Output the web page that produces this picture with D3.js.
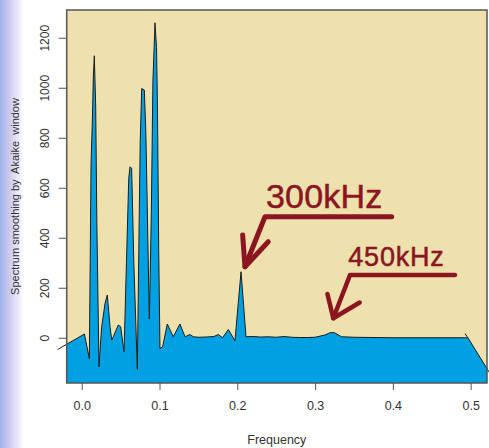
<!DOCTYPE html>
<html>
<head>
<meta charset="utf-8">
<script src="https://cdn.jsdelivr.net/npm/d3@7/dist/d3.min.js"></script>
<style>
  body { margin: 0; background: #fff; }
  svg { display: block; font-family: "Liberation Sans", Arial, sans-serif; }
</style>
</head>
<body>
<svg id="chart" width="489" height="448"></svg>
<script>
// spectrum
const freq = [-0.031, 0.0035, 0.0098, 0.0120, 0.0137, 0.0149, 0.0162, 0.0180, 0.0195, 0.0222,
  0.0255, 0.0300, 0.0329, 0.0364, 0.0386, 0.0406, 0.0470, 0.0501, 0.0544,
  0.0575, 0.0605, 0.0621, 0.0642, 0.0670, 0.0715,
  0.0740, 0.0752, 0.0771, 0.0805, 0.0825, 0.0850, 0.0869,
  0.0895, 0.0915, 0.0942, 0.0962, 0.0972, 0.0980, 0.0990, 0.1006,
  0.1040, 0.1100, 0.1177, 0.1263, 0.1328, 0.1390, 0.1435, 0.1500, 0.1600, 0.1700,
  0.1756, 0.1810, 0.1885, 0.1970, 0.2048, 0.2112, 0.2200, 0.2300, 0.2400, 0.2500,
  0.2600, 0.2700, 0.2800, 0.2900, 0.3000, 0.3127, 0.3200, 0.3250, 0.3340, 0.3500,
  0.4000, 0.4964, 0.5235, 0.5300];
const spec = [-47, 15, -83, 698, 871, 1043, 1128, 923, 450, -116,
  40, 138, 171, 45, -9, 4, 51, 44, -56,
  300, 640, 684, 677, 300, -127,
  500, 784, 997, 991, 818, 400, 75,
  500, 1024, 1260, 1161, 964, 717, 350, -43,
  -36, 55, 4, 55, 4, 13, 4, 2, 3, 5,
  13, 0, 33, -12, 264, 4, 5, 3, 4, 2,
  5, 2, 1, 1, 2, 11, 21, 20, 4, 2,
  0, 0, -136, -180];
// small stub of the closing line at the right end
const stubFreq = [0.4927, 0.4964];
const stubVal = [17, 0];

const xTicks = [0, 0.1, 0.2, 0.3, 0.4, 0.5];
const yTicks = [0, 200, 400, 600, 800, 1000, 1200];

// annotations (data units)
const noteText = ["300kHz", "450kHz"];
const noteFreq = [0.2369, 0.3427];
const noteVal = [521, 287];
const noteSize = [34, 27];
const arrowShaft = [
  [[0.3985, 484], [0.2356, 484], [0.2099, 284]],
  [[0.4798, 251], [0.3449, 251], [0.3234, 78]]
];
const arrowHead = [
  [[0.2069, 411], [0.2099, 284], [0.2398, 384]],
  [[0.3159, 175], [0.3234, 78], [0.3573, 141]]
];
const arrowWidth = [5, 4.5];

var svg = d3.select("#chart");
var plotL = 66.7, plotR = 487, plotT = 10, plotB = 383;

var x = d3.scaleLinear().domain([-0.0193, 0.521]).range([plotL, plotR]);
var y = d3.scaleLinear().domain([-181, 1311]).range([plotB, plotT]);

// lavender strip on the left edge
var grad = svg.append("defs").append("linearGradient")
  .attr("id", "side").attr("x1", "0").attr("x2", "1").attr("y1", "0").attr("y2", "0");
grad.append("stop").attr("offset", "0%").attr("stop-color", "#9db3ea");
grad.append("stop").attr("offset", "35%").attr("stop-color", "#c9c6ee");
grad.append("stop").attr("offset", "100%").attr("stop-color", "#ffffff");
svg.append("rect").attr("x", 0).attr("y", 0).attr("width", 24).attr("height", 448)
  .style("fill", "url(#side)");

svg.select("defs").append("clipPath").attr("id", "plotclip")
  .append("rect").attr("x", plotL).attr("y", plotT)
  .attr("width", plotR - plotL).attr("height", plotB - plotT);

svg.append("rect")
  .attr("x", plotL).attr("y", plotT)
  .attr("width", plotR - plotL).attr("height", plotB - plotT)
  .style("fill", "#eee1ae");

var pts = freq.map((f, i) => [f, spec[i]]);

var area = d3.area()
  .x(d => x(d[0]))
  .y0(y(-400))
  .y1(d => y(d[1]));

svg.append("path")
  .datum(pts)
  .attr("clip-path", "url(#plotclip)")
  .attr("d", area)
  .style("fill", "#00a0e2");

var line = d3.line().x(d => x(d[0])).y(d => y(d[1]));

svg.append("path")
  .datum(pts)
  .attr("d", line)
  .style("fill", "none")
  .style("stroke", "#1c1c1c")
  .style("stroke-width", 1)
  .style("stroke-linejoin", "round");

svg.append("path")
  .datum(stubFreq.map((f, i) => [f, stubVal[i]]))
  .attr("d", line)
  .style("fill", "none")
  .style("stroke", "#1c1c1c")
  .style("stroke-width", 1);

// frame
svg.append("rect")
  .attr("x", plotL).attr("y", plotT)
  .attr("width", plotR - plotL).attr("height", plotB - plotT)
  .style("fill", "none")
  .style("stroke", "#555")
  .style("stroke-width", 1.5);

// axes
var xAxis = svg.append("g")
  .attr("transform", "translate(0," + plotB + ")")
  .call(d3.axisBottom(x).tickValues(xTicks).tickFormat(d3.format(".1f")).tickSize(7).tickSizeOuter(0).tickPadding(11));
xAxis.select(".domain").remove();
xAxis.selectAll("line").style("stroke", "#555");
xAxis.selectAll("text").style("font-size", "12.5px").style("fill", "#333").style("font-family", "inherit");

var yAxis = svg.append("g")
  .attr("transform", "translate(" + plotL + ",0)")
  .call(d3.axisLeft(y).tickValues(yTicks).tickFormat(d3.format("d")).tickSize(8).tickSizeOuter(0));
yAxis.select(".domain").remove();
yAxis.selectAll("line").style("stroke", "#555");
yAxis.selectAll("text")
  .attr("x", null).attr("dy", null)
  .attr("transform", "translate(-17.5,0) rotate(-90)")
  .attr("text-anchor", "middle")
  .style("font-size", "12px").style("fill", "#333").style("font-family", "inherit");

svg.append("text")
  .text("Frequency")
  .attr("x", (plotL + plotR) / 2).attr("y", 444)
  .style("text-anchor", "middle")
  .style("font-size", "12.5px")
  .style("fill", "#333");

svg.append("text")
  .text("Spectrum smoothing by  Akaike  window")
  .attr("xml:space", "preserve")
  .style("white-space", "pre")
  .attr("transform", "translate(19," + ((plotT + plotB) / 2) + ") rotate(-90)")
  .style("text-anchor", "middle")
  .style("font-size", "11px")
  .style("fill", "#333");

// annotations
var red = "#8b1520";
arrowShaft.forEach((a, i) => {
  svg.append("path").datum(a).attr("d", line)
    .style("fill", "none").style("stroke", red).style("stroke-width", arrowWidth[i])
    .style("stroke-linecap", "round").style("stroke-linejoin", "round");
  svg.append("path").datum(arrowHead[i]).attr("d", line)
    .style("fill", "none").style("stroke", red).style("stroke-width", arrowWidth[i])
    .style("stroke-linecap", "round").style("stroke-linejoin", "round");
});
noteText.forEach((t, i) => {
  svg.append("text").text(t)
    .attr("x", x(noteFreq[i])).attr("y", y(noteVal[i]))
    .style("font-size", noteSize[i] + "px")
    .style("letter-spacing", i == 1 ? "0.8px" : "0.2px")
    .style("fill", red)
    .style("stroke", red)
    .style("stroke-width", 0.5);
});
</script>
</body>
</html>
